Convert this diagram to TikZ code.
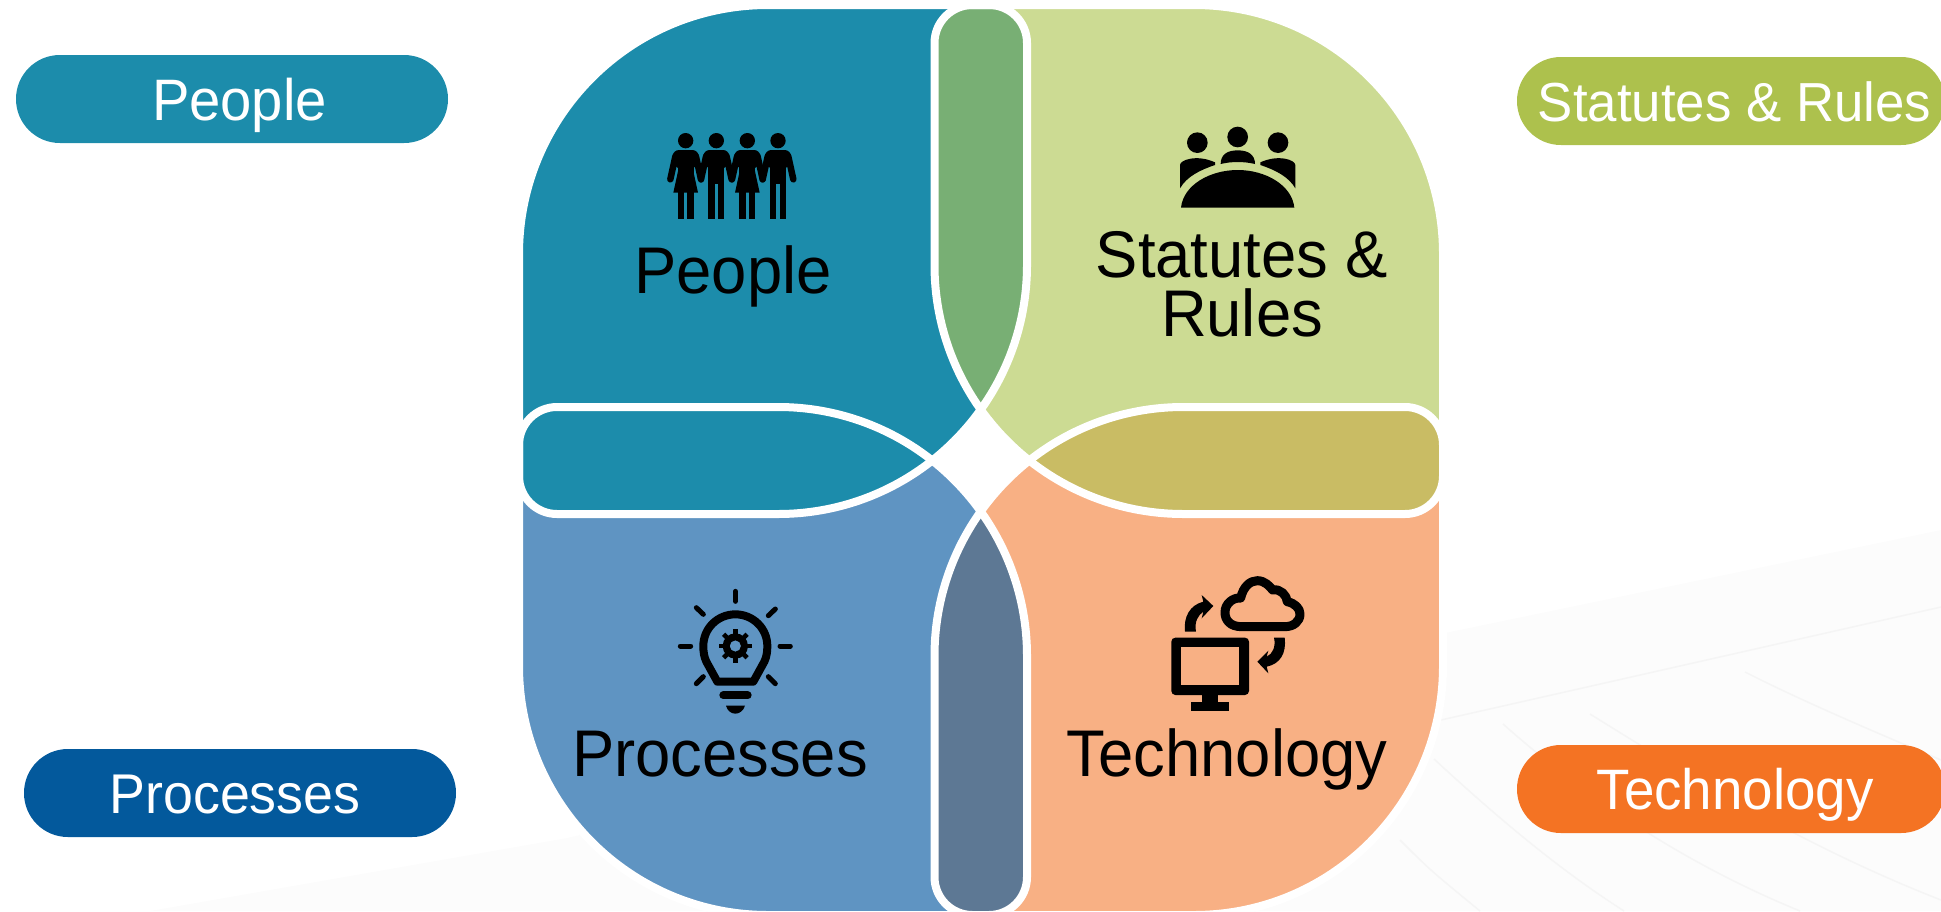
\documentclass[tikz,border=0pt]{standalone}
\usepackage{fontspec}
\setmainfont[FakeStretch=0.96]{Liberation Sans}
\definecolor{cpeople}{HTML}{1C8CAB}
\definecolor{cstat}{HTML}{CCDB93}
\definecolor{cproc}{HTML}{5F94C2}
\definecolor{ctech}{HTML}{F8B084}
\definecolor{cgreen}{HTML}{78AF74}
\definecolor{colive}{HTML}{C9BC64}
\definecolor{cslate}{HTML}{5D7894}
\definecolor{pstat}{HTML}{ADC14D}
\definecolor{pproc}{HTML}{03599C}
\definecolor{ptech}{HTML}{F47323}
\definecolor{bgfill}{HTML}{FCFCFC}
\definecolor{bgline}{HTML}{F5F5F5}
\newcommand{\leaf}[8]{(#1+#5,#2) -- (#3-#6,#2) .. controls (#3-0.4477*#6,#2) and (#3,#2+0.4477*#6) .. (#3,#2+#6) -- (#3,#4-#7) .. controls (#3,#4-0.4477*#7) and (#3-0.4477*#7,#4) .. (#3-#7,#4) -- (#1+#8,#4) .. controls (#1+0.4477*#8,#4) and (#1,#4-0.4477*#8) .. (#1,#4-#8) -- (#1,#2+#5) .. controls (#1,#2+0.4477*#5) and (#1+0.4477*#5,#2) .. (#1+#5,#2) -- cycle}
\newcommand{\lfpeople}{\leaf{519}{5}{1027}{514}{249}{38}{249}{38}}
\newcommand{\lfstat}{\leaf{934.5}{5}{1443}{514}{38}{249}{38}{249}}
\newcommand{\lfproc}{\leaf{519}{407}{1027}{915}{38}{249}{38}{249}}
\newcommand{\lftech}{\leaf{934.5}{407}{1443}{915}{249}{38}{249}{38}}
\tikzset{
  x=1pt,y=-1pt,
  leafline/.style={draw=white,line width=8pt,line join=round},
  bglinestyle/.style={draw=bgline,line width=1.5pt},
  biglabel/.style={font=\fontsize{66}{59}\selectfont,text=black,anchor=base,inner sep=0pt,align=center},
  pill/.style={rounded corners=43.9pt,minimum height=88pt,inner sep=0pt},
  pilltext/.style={text=white,inner sep=0pt,anchor=base},
  icon/.style={x=0.33333pt,y=-0.33333pt},
  ray/.style={draw=black,line width=5pt,line cap=round},
}
\begin{document}
\begin{tikzpicture}
\useasboundingbox (0,0) rectangle (1941,911);
% faint background
\fill[bgfill] (150,911) -- (567,838) -- (1445,633) -- (1941,530) -- (1941,911) -- cycle;
\draw[bglinestyle] (1441,720) -- (1941,607);
\draw[bglinestyle] (1400,840) .. controls (1430,870) .. (1480,911);
\draw[bglinestyle] (1434,759) .. controls (1500,820) and (1560,870) .. (1624,911);
\draw[bglinestyle] (1503,724) .. controls (1600,810) and (1700,870) .. (1800,911);
\draw[bglinestyle] (1590,714) .. controls (1680,770) and (1800,845) .. (1941,900);
\draw[bglinestyle] (1745,672) .. controls (1800,700) and (1870,730) .. (1941,760);
% leaf fills
\fill[cpeople] \lfpeople;
\fill[cstat] \lfstat;
\fill[cproc] \lfproc;
\fill[ctech] \lftech;
% overlaps
\begin{scope}\clip \lfpeople; \fill[cgreen] \lfstat; \end{scope}
\begin{scope}\clip \lfstat; \fill[colive] \lftech; \end{scope}
\begin{scope}\clip \lfproc; \fill[cslate] \lftech; \end{scope}
\begin{scope}\clip \lfpeople; \fill[cpeople] \lfproc; \end{scope}
% white outlines
\draw[leafline] \lfpeople;
\draw[leafline] \lfstat;
\draw[leafline] \lfproc;
\draw[leafline] \lftech;
% pills
\node[pill,fill=cpeople,minimum width=432pt] (pillpeople) at (232,99) {};
\node[pill,fill=pstat,minimum width=428pt] (pillstat) at (1731,101) {};
\node[pill,fill=pproc,minimum width=432pt] (pillproc) at (240,793) {};
\node[pill,fill=ptech,minimum width=428pt] (pilltech) at (1731,789) {};
\node[pilltext,font=\fontsize{58.5}{58.5}\selectfont] (txtpeople) at (239.5,120) {People};
\node[pilltext,font=\fontsize{55}{55}\selectfont] (txtstat) at (1734.5,121) {Statutes \& Rules};
\node[pilltext,font=\fontsize{56}{56}\selectfont] (txtproc) at (235,813) {Processes};
\node[pilltext,font=\fontsize{57}{57}\selectfont] (txttech) at (1735,809) {Technology};
% labels
\node[biglabel] (lblpeople) at (733,293) {People};
\node[biglabel] (lblstat) at (1242,336) {Statutes \&\\Rules};
\node[biglabel] (lblproc) at (720,776) {Processes};
\node[biglabel] (lbltech) at (1227,776) {Technology};
% people icon
\begin{scope}[shift={(500,0)},icon]
\foreach \cx/\w in {557/1,649/0,742/1,834/0}{
  \fill (\cx,422) circle[radius=23];
  \fill[rounded corners=6pt] (\cx-40,480) -- (\cx-38,450) -- (\cx+38,450) -- (\cx+40,480) -- (\cx+24,510) -- (\cx-24,510) -- cycle;
  \fill (\cx-24,465) rectangle (\cx+24,552);
  \fill (\cx-24,540) rectangle (\cx-5,658);
  \fill (\cx+5,540) rectangle (\cx+24,658);
  \ifnum\w=1 \fill (\cx-20,500) -- (\cx+20,500) -- (\cx+37,578) -- (\cx-37,578) -- cycle; \fi
  \draw[line width=6.5pt,line cap=round] (\cx-31,470) -- (\cx-46,538);
  \draw[line width=6.5pt,line cap=round] (\cx+31,470) -- (\cx+46,538);
}
\end{scope}
% statutes icon
\begin{scope}[shift={(950,0)},icon]
\fill (742,428) circle[radius=31];
\fill (863,411) circle[radius=31];
\fill (984,428) circle[radius=31];
\fill (812,492) .. controls (812,465) and (830,451) .. (863,451) .. controls (896,451) and (915,465) .. (915,492) .. controls (880,484) and (846,484) .. (812,492) -- cycle;
\fill (690,565) -- (690,495) .. controls (690,480) and (740,462) .. (795,487) -- (795,495) .. controls (750,510) and (710,530) .. (690,565) -- cycle;
\fill (1036,565) -- (1036,495) .. controls (1036,480) and (986,462) .. (931,487) -- (931,495) .. controls (976,510) and (1016,530) .. (1036,565) -- cycle;
\fill (693,623) .. controls (700,555) and (780,510) .. (863,510) .. controls (946,510) and (1026,555) .. (1033,623) -- cycle;
\end{scope}
% bulb icon
\begin{scope}[shift={(500,440)},icon]
\draw[line width=8pt,line join=round] (652,725) -- (619,665) .. controls (612,650) and (610,635) .. (610,618) .. controls (610,565) and (653,523) .. (706,523) .. controls (759,523) and (802,565) .. (802,618) .. controls (802,635) and (800,650) .. (793,665) -- (760,725) -- cycle;
\draw[ray] (706,454) -- (706,484);
\draw[ray] (541,618) -- (572,618);
\draw[ray] (840,618) -- (871,618);
\draw[ray] (589,503) -- (610,523);
\draw[ray] (826,507) -- (805,527);
\draw[ray] (589,731) -- (610,710);
\draw[ray] (826,731) -- (805,710);
\draw[line width=8pt,line cap=round] (670,766) -- (743,766);
\fill (678,797) -- (735,797) .. controls (730,813) and (718,821) .. (706,821) .. controls (694,821) and (682,813) .. (678,797) -- cycle;
\fill[even odd rule] (706,618) circle[radius=38] (706,618) circle[radius=17];
\foreach \a in {0,45,...,315}{\draw[line width=4.5pt] (706,618) ++(\a:34) -- ++(\a:16);}
\end{scope}
% technology icon
\begin{scope}[shift={(950,440)},icon]
\fill[rounded corners=4pt] (664,593) rectangle (897,765);
\fill[ctech] (692,622) rectangle (868,735);
\fill (755,765) rectangle (805,785);
\fill (722,785) rectangle (838,812);
\draw[line width=9pt,line join=round] (875,560) .. controls (840,560) and (825,540) .. (825,517) .. controls (825,490) and (850,472) .. (872,474) .. controls (880,440) and (900,422) .. (922,422) .. controls (945,422) and (960,440) .. (968,450) .. controls (990,445) and (1010,465) .. (1012,485) .. controls (1035,490) and (1050,505) .. (1050,522) .. controls (1050,545) and (1030,560) .. (1005,560) -- cycle;
\fill (705,575) .. controls (700,530) and (720,495) .. (760,485) -- (755,465) -- (790,498) -- (755,535) -- (760,515) .. controls (745,525) and (732,545) .. (738,575) -- cycle;
\fill (1004,593) .. controls (1010,640) and (990,672) .. (950,680) -- (955,700) -- (922,665) -- (955,632) -- (950,650) .. controls (968,642) and (978,620) .. (972,593) -- cycle;
\end{scope}
\end{tikzpicture}
\end{document}
